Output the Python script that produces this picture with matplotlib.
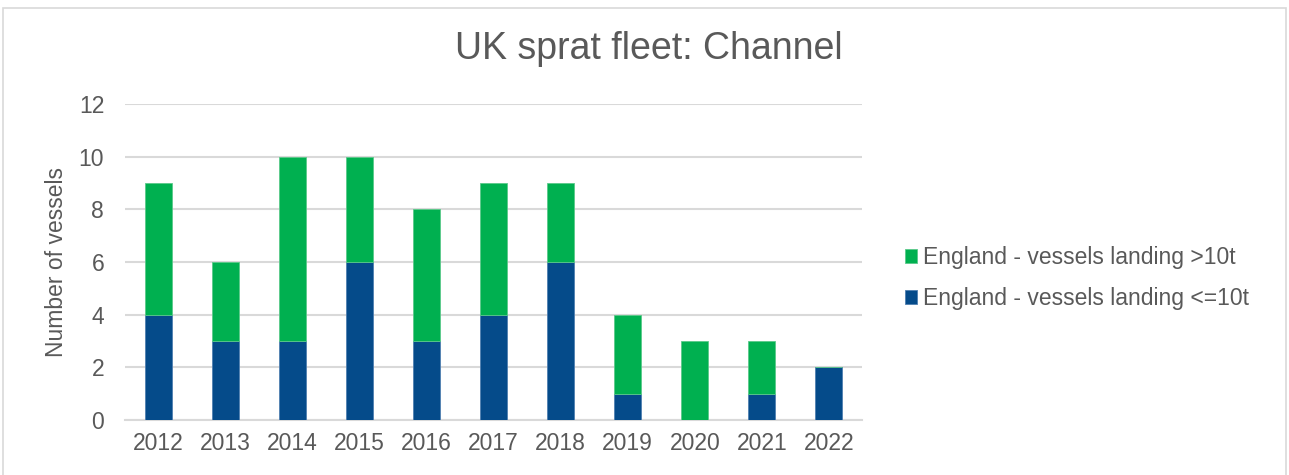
import numpy as np
import matplotlib.pyplot as plt
from matplotlib.patches import Rectangle

plt.rcParams['font.family'] = ['Liberation Sans', 'DejaVu Sans']

years = ['2012', '2013', '2014', '2015', '2016', '2017', '2018', '2019', '2020', '2021', '2022']
small = [4, 3, 3, 6, 3, 4, 6, 1, 0, 1, 2]   # vessels landing <=10t
large = [5, 3, 7, 4, 5, 5, 3, 3, 3, 2, 0]   # vessels landing >10t

green = '#00B050'
blue = '#054B8A'
grey = '#595959'

fig = plt.figure(figsize=(12.89, 4.75), dpi=100)
ax = fig.add_axes([0.097, 0.116, 0.572, 0.665])

x = np.arange(len(years))
b1 = ax.bar(x, small, width=0.4, color=blue, edgecolor='#4F7FB0', linewidth=0.6, zorder=3,
            label='England - vessels landing <=10t')
b2 = ax.bar(x, large, width=0.4, bottom=small, color=green, edgecolor='#5BC98A', linewidth=0.6,
            zorder=3, label='England - vessels landing >10t')

ax.set_xlim(-0.5, len(years) - 0.5)
ax.set_ylim(0, 12)
ax.set_yticks(range(0, 13, 2))
ax.set_xticks(x)
ax.set_xticklabels(years)
ax.yaxis.grid(True, color='#D9D9D9', linewidth=1.5, zorder=0)
ax.set_axisbelow(True)
for s in ['top', 'right', 'left']:
    ax.spines[s].set_visible(False)
ax.spines['bottom'].set_color('#D9D9D9')
ax.spines['bottom'].set_linewidth(1.5)
ax.tick_params(length=0, labelsize=16.5, colors=grey)
ax.tick_params(axis='x', pad=9)
ax.tick_params(axis='y', pad=15)
ax.set_ylabel('Number of vessels', fontsize=16.5, color=grey, labelpad=8)

fig.text(0.503, 0.897, 'UK sprat fleet: Channel', ha='center', va='center', fontsize=27, color=grey)

leg = fig.legend(handles=[b2, b1], loc='center left', bbox_to_anchor=(0.686, 0.415),
                 frameon=False, fontsize=16.5, handlelength=0.55, handleheight=0.55,
                 handletextpad=0.22, labelspacing=0.8, labelcolor=grey)

# chart frame
fig.patches.append(Rectangle((0.0025, -0.01), 0.995, 0.993, transform=fig.transFigure,
                             fill=False, edgecolor='#D9D9D9', linewidth=1.2))

fig.savefig('out.png', dpi=100)
